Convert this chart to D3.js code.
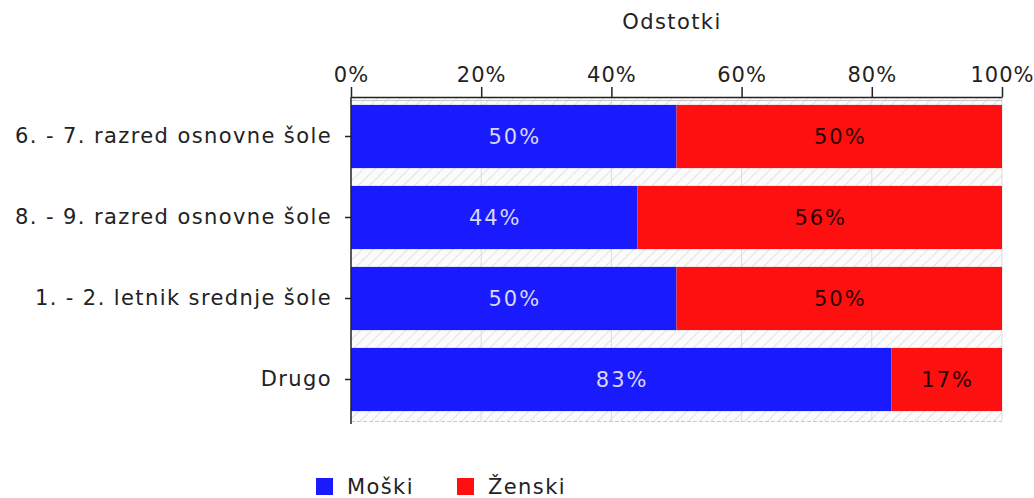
<!DOCTYPE html>
<html>
<head>
<meta charset="utf-8">
<script src="https://cdn.jsdelivr.net/npm/d3@7"></script>
<style>
  body { margin: 0; background: #fff; }
  svg text { font-family: "DejaVu Sans", Verdana, sans-serif; }
</style>
</head>
<body>
<div id="chart"></div>
<script>
// data
const categories = ["6. - 7. razred osnovne šole", "8. - 9. razred osnovne šole", "1. - 2. letnik srednje šole", "Drugo"];
const seriesNames = ["Moški", "Ženski"];
const moski = [50, 44, 50, 83];
const zenski = [50, 56, 50, 17];
const xTicks = [0, 20, 40, 60, 80, 100];
const colors = ["#1a1aff", "#ff1010"];
const labelColors = ["#d8d8f4", "#2a0000"];

const W = 1034, H = 498;
const plotLeft = 351, plotRight = 1002, plotTop = 97, plotBottom = 421;
const fs = 21, ls = 1.4;

const svg = d3.select("#chart").append("svg")
    .attr("width", W)
    .attr("height", H);

const defs = svg.append("defs");
const pat = defs.append("pattern")
    .attr("id", "hatch")
    .attr("width", 8).attr("height", 8)
    .attr("patternUnits", "userSpaceOnUse")
    .attr("patternTransform", "rotate(45)");
pat.append("rect").attr("width", 8).attr("height", 8).attr("fill", "#fbfbfb");
pat.append("line")
    .attr("x1", 0).attr("y1", 0).attr("x2", 0).attr("y2", 8)
    .attr("stroke", "#e2e2e2").attr("stroke-width", 2);

const x = d3.scaleLinear().domain([0, 100]).range([plotLeft, plotRight]);
const y = d3.scaleBand().domain(categories).range([plotTop - 1, plotBottom - 1]).paddingInner(0.22).paddingOuter(0.11);

// plot background
svg.append("rect")
    .attr("x", plotLeft).attr("y", plotTop)
    .attr("width", plotRight - plotLeft).attr("height", plotBottom - plotTop)
    .attr("fill", "url(#hatch)");

// grid
svg.append("g")
    .selectAll("line")
    .data(xTicks.slice(1))
    .enter().append("line")
    .attr("x1", d => x(d)).attr("x2", d => x(d))
    .attr("y1", plotTop).attr("y2", plotBottom)
    .attr("stroke", "#dcdcdc").attr("stroke-width", 1);

svg.append("line")
    .attr("x1", plotLeft).attr("x2", plotRight)
    .attr("y1", plotTop + 3.5).attr("y2", plotTop + 3.5)
    .attr("stroke", "#c8c8c8");

svg.append("line")
    .attr("x1", plotLeft).attr("x2", plotRight)
    .attr("y1", plotBottom + 0.5).attr("y2", plotBottom + 0.5)
    .attr("stroke", "#c8c8c8").attr("stroke-dasharray", "4,2");

// stacked bars
const rows = categories.map((c, i) => ({ cat: c, "Moški": moski[i], "Ženski": zenski[i] }));
const stack = d3.stack().keys(seriesNames)(rows);

stack.forEach((layer, si) => {
    const g = svg.append("g");
    g.selectAll("rect")
        .data(layer)
        .enter().append("rect")
        .attr("x", d => x(d[0]))
        .attr("y", d => y(d.data.cat))
        .attr("width", d => x(d[1]) - x(d[0]))
        .attr("height", y.bandwidth())
        .attr("fill", colors[si]);
    g.selectAll("text")
        .data(layer)
        .enter().append("text")
        .attr("x", d => (x(d[0]) + x(d[1])) / 2 + 1)
        .attr("y", d => y(d.data.cat) + y.bandwidth() / 2)
        .attr("dy", "0.35em")
        .attr("text-anchor", "middle")
        .attr("font-size", fs)
        .attr("letter-spacing", 2)
        .attr("fill", labelColors[si])
        .text(d => (d[1] - d[0]) + "%");
});

// top axis
const xAxis = svg.append("g")
    .attr("transform", `translate(0,${plotTop})`)
    .call(d3.axisTop(x).tickValues(xTicks).tickFormat(d => d + "%").tickSize(10).tickPadding(5).tickSizeOuter(0));
xAxis.select(".domain").attr("stroke", "#222").attr("stroke-width", 1.5);
xAxis.selectAll(".tick line").attr("stroke", "#222").attr("stroke-width", 1.5);
xAxis.selectAll("text").attr("font-size", fs).attr("letter-spacing", 1).attr("fill", "#222")
    .attr("font-family", "DejaVu Sans, sans-serif");

// left axis
const yAxis = svg.append("g")
    .attr("transform", `translate(${plotLeft},0)`)
    .call(d3.axisLeft(y).tickSize(6).tickPadding(13).tickSizeOuter(0));
yAxis.select(".domain").attr("d", `M0,${plotTop}V${plotBottom + 3}`).attr("stroke", "#222").attr("stroke-width", 1.5);
yAxis.selectAll(".tick line").attr("stroke", "#222").attr("stroke-width", 1.5);
yAxis.selectAll("text").attr("font-size", fs).attr("letter-spacing", ls).attr("fill", "#222")
    .attr("font-family", "DejaVu Sans, sans-serif");

// title
svg.append("text")
    .attr("x", 672).attr("y", 29)
    .attr("text-anchor", "middle")
    .attr("font-size", fs)
    .attr("letter-spacing", ls)
    .attr("fill", "#222")
    .text("Odstotki");

// legend
const legendX = [316, 457];
const legend = svg.append("g")
    .selectAll("g")
    .data(seriesNames)
    .enter().append("g")
    .attr("transform", (d, i) => `translate(${legendX[i]},478)`);
legend.append("rect")
    .attr("width", 17).attr("height", 17)
    .attr("fill", (d, i) => colors[i]);
legend.append("text")
    .attr("x", 31).attr("y", 9)
    .attr("dy", "0.35em")
    .attr("font-size", fs)
    .attr("letter-spacing", ls)
    .attr("fill", "#222")
    .text(d => d);
</script>
</body>
</html>
